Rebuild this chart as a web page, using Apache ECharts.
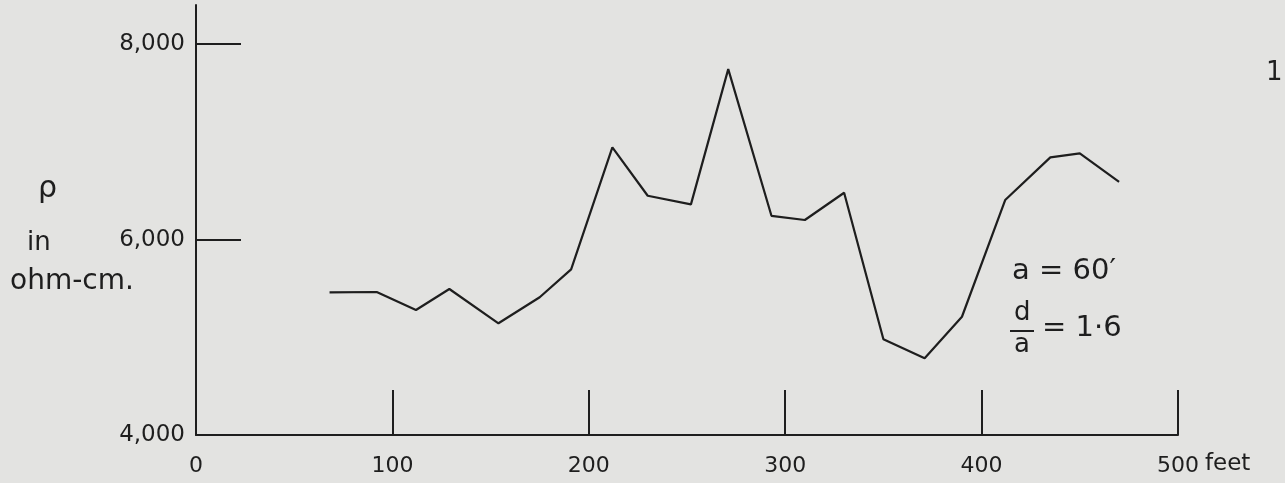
<!DOCTYPE html>
<html>
<head>
<meta charset="utf-8">
<script src="https://cdn.jsdelivr.net/npm/echarts@6/dist/echarts.min.js"></script>
<style>
  html, body { margin: 0; padding: 0; background: #e3e3e1; }
  #chart { width: 1285px; height: 483px; }
</style>
</head>
<body>
<div id="chart"></div>
<script>
// Resistivity traverse: distance along the line (feet) and apparent resistivity (ohm-cm)
const distanceFeet = [68, 92, 112, 129, 154, 175, 191, 212, 230, 252, 271, 293, 310, 330, 350, 371, 390, 412, 435, 450, 470];
const resistivity = [5460, 5463, 5279, 5494, 5143, 5409, 5695, 6943, 6448, 6360, 7744, 6243, 6200, 6479, 4979, 4785, 5210, 6404, 6841, 6882, 6591];

const xTickValues = [100, 200, 300, 400, 500];
const xLabelValues = [0, 100, 200, 300, 400, 500];
const yTickValues = [6000, 8000];
const yLabelValues = [4000, 6000, 8000];

const ink = '#1e1e1e';
const font = '"DejaVu Sans", "Liberation Sans", sans-serif';

const chart = echarts.init(document.getElementById('chart'), null, { renderer: 'canvas' });

chart.setOption({
  backgroundColor: '#e3e3e1',
  animation: false,
  grid: { left: 196, right: 107, top: 5, bottom: 48, containLabel: false },
  xAxis: {
    type: 'value',
    min: 0,
    max: 500,
    interval: 100,
    name: 'feet',
    nameLocation: 'end',
    nameGap: 14,
    nameTextStyle: { color: ink, fontFamily: font, fontSize: 23, verticalAlign: 'top', padding: [18, 0, 0, 0] },
    axisLine: { show: true, lineStyle: { color: ink, width: 2 } },
    axisTick: { show: true, inside: true, length: 45, customValues: xTickValues, lineStyle: { color: ink, width: 2 } },
    axisLabel: {
      customValues: xLabelValues,
      color: ink, fontFamily: font, fontSize: 22, margin: 20
    },
    splitLine: { show: false }
  },
  yAxis: {
    type: 'value',
    min: 4000,
    max: 8400,
    interval: 2000,
    axisLine: { show: true, lineStyle: { color: ink, width: 2 } },
    axisTick: { show: true, inside: true, length: 45, customValues: yTickValues, lineStyle: { color: ink, width: 2 } },
    axisLabel: {
      customValues: yLabelValues,
      color: ink, fontFamily: font, fontSize: 23, margin: 11,
      formatter: v => v.toLocaleString('en-US')
    },
    splitLine: { show: false }
  },
  graphic: [
    {
      type: 'text', left: 38, top: 174,
      style: { text: 'ρ', fill: ink, font: '30px ' + font }
    },
    {
      type: 'text', left: 27, top: 230,
      style: { text: 'in', fill: ink, font: '26px ' + font }
    },
    {
      type: 'text', left: 10, top: 268,
      style: { text: 'ohm-cm.', fill: ink, font: '28px ' + font }
    },
    {
      type: 'text', left: 1012, top: 257,
      style: { text: 'a = 60′', fill: ink, font: '29px ' + font }
    },
    {
      type: 'text', left: 1014, top: 300,
      style: { text: 'd', fill: ink, font: '26px ' + font }
    },
    {
      type: 'line', shape: { x1: 1010, y1: 331, x2: 1034, y2: 331 },
      style: { stroke: ink, lineWidth: 2 }
    },
    {
      type: 'text', left: 1014, top: 332,
      style: { text: 'a', fill: ink, font: '26px ' + font }
    },
    {
      type: 'text', left: 1042, top: 314,
      style: { text: '= 1·6', fill: ink, font: '29px ' + font }
    },
    {
      type: 'text', left: 1266, top: 60,
      style: { text: '1', fill: ink, font: '26px ' + font }
    }
  ],
  series: [
    {
      type: 'line',
      data: distanceFeet.map((d, i) => [d, resistivity[i]]),
      showSymbol: false,
      lineStyle: { color: ink, width: 2.2 },
      silent: true
    }
  ]
});
</script>
</body>
</html>
